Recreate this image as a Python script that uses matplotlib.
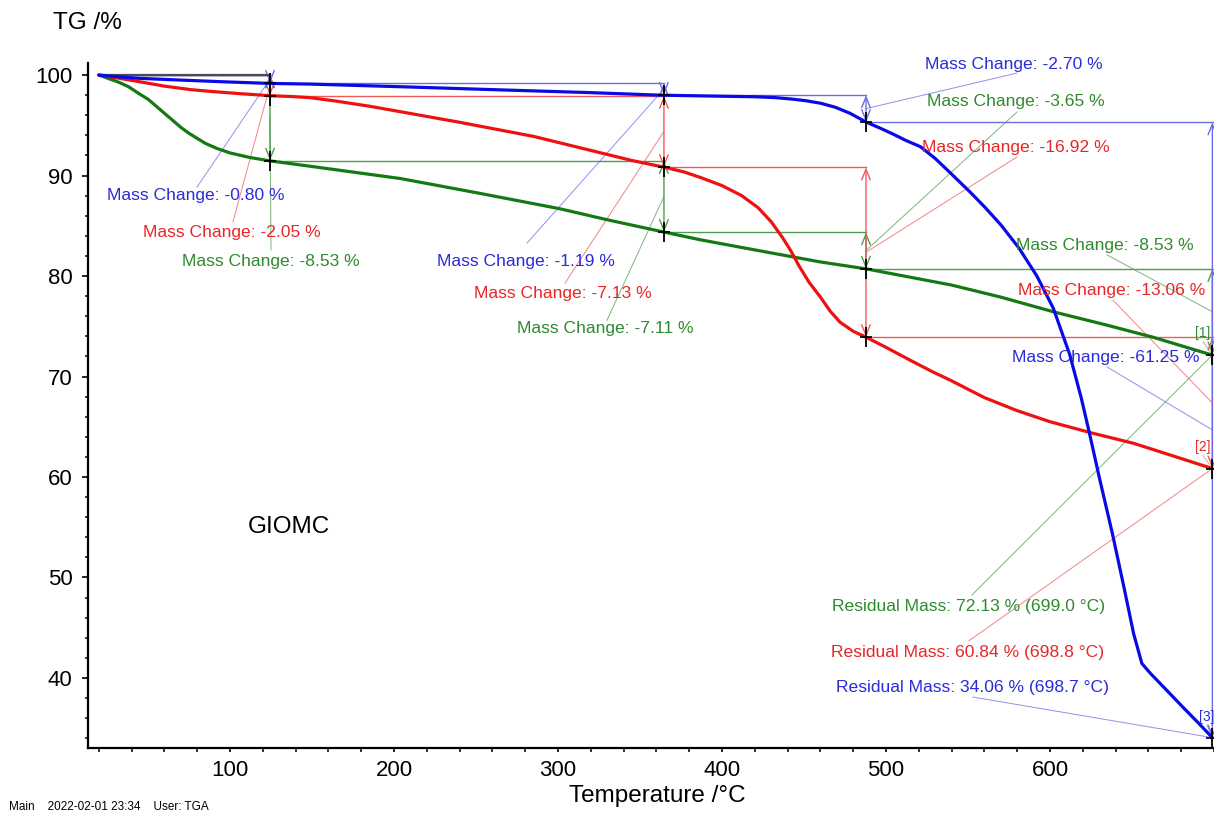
import matplotlib
matplotlib.use("Agg")
import matplotlib.pyplot as plt
import numpy as np

plt.rcParams["font.family"] = ["Liberation Sans", "DejaVu Sans"]

# TG curves: temperature (°C) / mass (%)
blue_temp = [20, 30, 45, 70, 96, 124, 149, 204, 260, 320, 362, 390, 420, 432, 442, 451, 460,
             469, 478, 488, 496, 504, 512, 521, 530, 539, 551, 560, 570, 581, 592, 602, 612,
             619, 624, 630, 638, 645, 651, 656, 661, 671, 681, 690, 699]
blue_mass = [100.0, 99.85, 99.67, 99.5, 99.33, 99.17, 99.1, 98.84, 98.55, 98.25, 98.0, 97.92,
             97.84, 97.76, 97.62, 97.45, 97.2, 96.8, 96.2, 95.31, 94.75, 94.15, 93.5, 92.87,
             91.7, 90.3, 88.4, 86.9, 85.1, 82.8, 80.0, 76.8, 72.2, 67.9, 64.4, 60.0, 54.4,
             49.1, 44.4, 41.45, 40.5, 38.8, 37.1, 35.6, 34.06]

red_temp = [20, 30, 45, 60, 76, 90, 106, 124, 137, 149, 165, 185, 204, 240, 285, 320, 345, 365,
            377, 387, 400, 412, 422, 430, 437, 442, 447, 453, 460, 466, 472, 480, 488, 500, 515,
            528, 539, 560, 580, 600, 625, 651, 675, 699]
red_mass = [100.0, 99.75, 99.33, 98.9, 98.55, 98.35, 98.15, 97.95, 97.87, 97.75, 97.4, 96.9,
            96.35, 95.3, 93.9, 92.5, 91.5, 90.82, 90.35, 89.8, 89.0, 88.0, 86.8, 85.4, 83.8,
            82.5, 81.0, 79.4, 77.9, 76.5, 75.4, 74.5, 73.9, 72.9, 71.6, 70.5, 69.65, 67.9,
            66.6, 65.5, 64.4, 63.35, 62.1, 60.84]

green_temp = [20, 26, 32, 38, 45, 50, 55, 60, 65, 70, 75, 80, 85, 92, 100, 112, 124, 150, 204,
              250, 301, 330, 365, 387, 420, 460, 488, 540, 570, 603, 635, 663, 699]
green_mass = [100.0, 99.65, 99.3, 98.85, 98.1, 97.6, 96.9, 96.2, 95.5, 94.8, 94.2, 93.7, 93.2,
              92.7, 92.25, 91.8, 91.47, 90.9, 89.7, 88.3, 86.7, 85.6, 84.36, 83.6, 82.6, 81.4,
              80.71, 79.1, 77.9, 76.4, 75.1, 73.9, 72.13]

# mass change steps (evaluation limits and levels)
step_temps = [20.0, 124.4, 364.6, 487.8, 699.0]
blue_levels = [100.0, 99.20, 98.01, 95.31, 34.06]
red_levels = [100.0, 97.95, 90.82, 73.90, 60.84]
green_levels = [100.0, 91.47, 84.36, 80.71, 72.18]
blue_changes = ["-0.80", "-1.19", "-2.70", "-61.25"]
red_changes = ["-2.05", "-7.13", "-16.92", "-13.06"]
green_changes = ["-8.53", "-7.11", "-3.65", "-8.53"]
residual_mass = {"blue": ("34.06", "698.7"), "red": ("60.84", "698.8"), "green": ("72.13", "699.0")}

# label layout: (text x, text y, leader start x, leader start y) in data units
blue_label_pos = [(25.0, 87.97, 79.9, 88.85), (226.2, 81.41, 281.1, 83.28),
                  (523.8, 101.1, 579.9, 100.2), (576.8, 71.94, 634.8, 70.95)]
red_label_pos = [(46.95, 84.29, 101.8, 85.38), (248.8, 78.22, 304.3, 79.3),
                 (522.0, 92.84, 579.9, 91.85), (580.5, 78.51, 638.4, 77.6)]
green_label_pos = [(70.7, 81.41, 125.0, 82.6), (275.0, 74.73, 329.9, 75.6),
                   (525.0, 97.32, 579.9, 96.33), (579.3, 82.99, 634.8, 82.1)]
residual_pos = {"blue": (469.5, 39.1, 553.0, 38.1, "[3]", 695.7, 36.1),
                "red": (466.5, 42.58, 550.6, 43.7, "[2]", 693.3, 62.96),
                "green": (467.1, 47.16, 552.4, 48.26, "[1]", 693.3, 74.3)}

colors = {"blue": ("#0a0ae6", "#2b2bd9", "#6b6be8"),
          "red": ("#ee1111", "#e82626", "#ee5a5a"),
          "green": ("#137a13", "#2f8a2f", "#4f9c4f")}

fig = plt.figure(figsize=(12.14, 8.16), dpi=100)
ax = fig.add_axes([88.3 / 1214, (816 - 748.3) / 816, (1214 - 88.3) / 1214, (748.3 - 63) / 816])

series = [("green", green_temp, green_mass, green_levels, green_changes, green_label_pos),
          ("red", red_temp, red_mass, red_levels, red_changes, red_label_pos),
          ("blue", blue_temp, blue_mass, blue_levels, blue_changes, blue_label_pos)]

for name, temp, mass, levels, changes, label_pos in series:
    c_curve, c_text, c_thin = colors[name]
    ax.plot(temp, mass, color=c_curve, lw=2.3, zorder=6, solid_capstyle="round",
            solid_joinstyle="round")
    for i in range(4):
        t0, t1 = step_temps[i], step_temps[i + 1]
        hi, lo = levels[i], levels[i + 1]
        x_end = 705 if i == 3 else t1
        ax.plot([t0, x_end], [hi, hi], color=c_thin, lw=1.0, zorder=2)
        ax.annotate("", xy=(t1, lo), xytext=(t1, hi),
                    arrowprops=dict(arrowstyle="<->,head_length=0.55,head_width=0.22",
                                    color=c_thin, lw=1.0, shrinkA=0, shrinkB=0,
                                    mutation_scale=14), zorder=3)
        tx, ty, sx, sy = label_pos[i]
        ax.text(tx, ty, f"Mass Change: {changes[i]} %", color=c_text, fontsize=12.6,
                ha="left", va="center", zorder=7)
        ax.plot([sx, t1], [sy, (hi + lo) / 2], color=c_thin, lw=0.7, alpha=0.75, zorder=4)
        # step end mark on the curve
        ax.plot([t1], [lo], marker="|", ms=15, mew=1.3, color="black", zorder=8)
        ax.plot([t1], [lo], marker="_", ms=8, mew=1.2, color="black", zorder=8)

    rx, ry, lsx, lsy, tag, tagx, tagy = residual_pos[name]
    val, at = residual_mass[name]
    ax.text(rx, ry, f"Residual Mass: {val} % ({at} °C)", color=c_text, fontsize=12.6,
            ha="left", va="center", zorder=7)
    ax.plot([lsx, temp[-1]], [lsy, mass[-1]], color=c_thin, lw=0.7, alpha=0.75, zorder=4)
    ax.text(tagx, tagy, tag, color=c_text, fontsize=10, ha="center", va="center", zorder=7)
    ax.plot([tagx, temp[-1]], [tagy - 0.8, mass[-1]], color=c_thin, lw=0.6, alpha=0.7, zorder=4)

# the three 100 % baselines overlap -> dark line
ax.plot([step_temps[0], step_temps[1]], [100, 100], color="#4a4a58", lw=1.6, zorder=5)

ax.text(111, 55.0, "GIOMC", fontsize=17.5, ha="left", va="center")

ax.set_xlim(13.6, 700.0)
ax.set_ylim(33.0, 101.2)
ax.set_xticks(np.arange(100, 601, 100))
ax.set_xticks(np.arange(20, 701, 20), minor=True)
ax.set_yticks(np.arange(40, 101, 10))
ax.set_yticks(np.arange(34, 101, 2), minor=True)
ax.tick_params(axis="both", which="major", labelsize=16, width=1.2, direction="out")
ax.tick_params(axis="y", which="major", length=4.5, pad=7)
ax.tick_params(axis="x", which="major", length=3.2, pad=5.5)
ax.tick_params(axis="y", which="minor", length=2.5, width=1.1)
ax.tick_params(axis="x", which="minor", length=3.2, width=1.1)
for side in ["top", "right"]:
    ax.spines[side].set_visible(False)
for side in ["left", "bottom"]:
    ax.spines[side].set_linewidth(1.6)

fig.text(53 / 1214, 1 - 23 / 816, "TG /%", fontsize=17.5, ha="left", va="center")
fig.text(657 / 1214, 1 - 796 / 816, "Temperature /°C", fontsize=17.5, ha="center", va="center")
fig.text(9 / 1214, 3 / 816, "Main    2022-02-01 23:34    User: TGA", fontsize=8.5,
         ha="left", va="bottom")

fig.savefig("out.png", dpi=100)
